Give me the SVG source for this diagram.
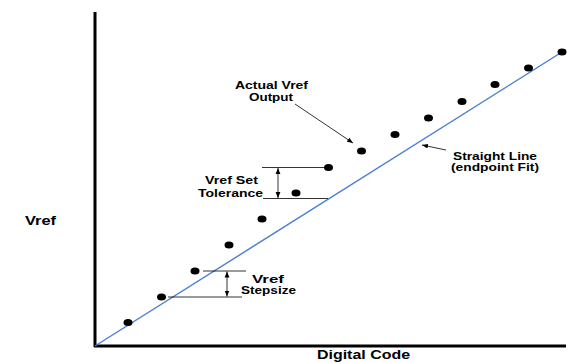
<svg xmlns="http://www.w3.org/2000/svg" width="569" height="363" viewBox="0 0 569 363">
<defs>
<marker id="ah" viewBox="0 0 10 10" refX="10" refY="5" markerWidth="6" markerHeight="6" orient="auto-start-reverse" markerUnits="userSpaceOnUse">
<path d="M0,1 L10,5 L0,9 Z" fill="#000"/>
</marker>
<style>
.t{font-family:"Liberation Sans",Arial,sans-serif;font-weight:bold;font-size:11px;fill:#000;text-anchor:middle}
.big{font-size:12.5px}
.axis{stroke:#000;stroke-width:3;fill:none}
.fit{stroke:#4a7fd0;stroke-width:1.4;fill:none}
.thin{stroke:#000;stroke-width:0.8;fill:none}
.dot{fill:#000}
</style>
</defs>
<rect width="569" height="363" fill="#fff"/>
<g id="axes">
<line class="axis" x1="95" y1="12" x2="95" y2="347"/>
<line class="axis" x1="94" y1="346" x2="566" y2="346"/>
</g>
<g id="fit-line">
<line class="fit" x1="95" y1="346" x2="566" y2="49.5"/>
</g>
<g id="dots">
<ellipse class="dot" cx="128" cy="322.5" rx="4.5" ry="3.5"/>
<ellipse class="dot" cx="161.5" cy="297" rx="4.5" ry="3.5"/>
<ellipse class="dot" cx="195" cy="271" rx="4.5" ry="3.5"/>
<ellipse class="dot" cx="229" cy="245" rx="4.5" ry="3.5"/>
<ellipse class="dot" cx="262" cy="219" rx="4.5" ry="3.5"/>
<ellipse class="dot" cx="296" cy="193" rx="4.5" ry="3.5"/>
<ellipse class="dot" cx="328.5" cy="167.5" rx="4.5" ry="3.5"/>
<ellipse class="dot" cx="361.5" cy="151" rx="4.5" ry="3.5"/>
<ellipse class="dot" cx="395" cy="134.5" rx="4.5" ry="3.5"/>
<ellipse class="dot" cx="428.5" cy="118" rx="4.5" ry="3.5"/>
<ellipse class="dot" cx="462" cy="101.5" rx="4.5" ry="3.5"/>
<ellipse class="dot" cx="495" cy="84.5" rx="4.5" ry="3.5"/>
<ellipse class="dot" cx="528.5" cy="68" rx="4.5" ry="3.5"/>
<ellipse class="dot" cx="562" cy="52" rx="4.5" ry="3.5"/>
</g>
<g id="connectors">
<line class="thin" x1="262" y1="167.5" x2="327" y2="167.5"/>
<line class="thin" x1="263" y1="198.5" x2="328" y2="198.5"/>
<line class="thin" x1="278" y1="168" x2="278" y2="198" marker-start="url(#ah)" marker-end="url(#ah)"/>
<line class="thin" x1="203" y1="271" x2="246" y2="271"/>
<line class="thin" x1="168" y1="297" x2="242" y2="297"/>
<line class="thin" x1="227" y1="271.5" x2="227" y2="296.5" marker-start="url(#ah)" marker-end="url(#ah)"/>
<line class="thin" x1="295" y1="104" x2="353" y2="143" marker-end="url(#ah)"/>
<line class="thin" x1="446" y1="150" x2="422" y2="145" marker-end="url(#ah)"/>
</g>
<g id="label-actual">
<text class="t" x="271.5" y="89" textLength="73" lengthAdjust="spacingAndGlyphs">Actual Vref</text>
<text class="t" x="271" y="101" textLength="44" lengthAdjust="spacingAndGlyphs">Output</text>
</g>
<g id="label-tolerance">
<text class="t" x="231.5" y="184" textLength="53" lengthAdjust="spacingAndGlyphs">Vref Set</text>
<text class="t" x="230.5" y="197" textLength="65" lengthAdjust="spacingAndGlyphs">Tolerance</text>
</g>
<g id="label-stepsize">
<text class="t" x="268" y="283" textLength="32" lengthAdjust="spacingAndGlyphs">Vref</text>
<text class="t" x="268.5" y="294" textLength="55" lengthAdjust="spacingAndGlyphs">Stepsize</text>
</g>
<g id="label-straight">
<text class="t" x="495" y="160" textLength="84" lengthAdjust="spacingAndGlyphs">Straight Line</text>
<text class="t" x="495" y="171" textLength="88" lengthAdjust="spacingAndGlyphs">(endpoint Fit)</text>
</g>
<g id="label-yaxis">
<text class="t big" x="40.5" y="225" textLength="31" lengthAdjust="spacingAndGlyphs">Vref</text>
</g>
<g id="label-xaxis">
<text class="t big" x="363.5" y="359" textLength="93" lengthAdjust="spacingAndGlyphs">Digital Code</text>
</g>
</svg>
